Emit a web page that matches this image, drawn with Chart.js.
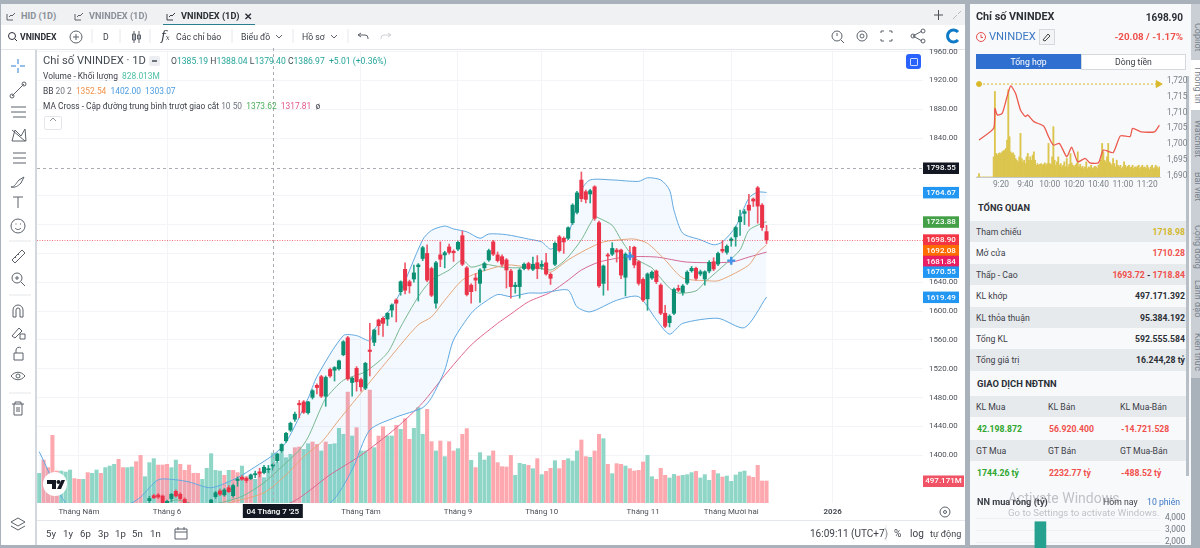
<!doctype html>
<html>
<head>
<meta charset="utf-8">
<title>VNINDEX</title>
<script src="https://cdn.jsdelivr.net/npm/chart.js@4/dist/chart.umd.js"></script>
<style>
	html, body { margin: 0; padding: 0; }
	body { position: relative; width: 1200px; height: 548px; overflow: hidden; background: #a9b1bb; font-family: Roboto, sans-serif; color: #3c4048; }
	.box { position: absolute; }
	.t { position: absolute; white-space: nowrap; line-height: 12px; font-size: 8.7px; }
	.r { text-align: right; }
	.b { font-weight: 700; }
	canvas { position: absolute; }
	.row { position: absolute; left: 970px; width: 216px; height: 21.4px; }
	.vt { position: absolute; left: 1191px; width: 12px; writing-mode: vertical-rl; font-size: 9px; color: #77808a; white-space: nowrap; line-height: 10px; }
</style>
</head>
<body>
	<!-- panels -->
	<div class="box" style="left:1px;top:4px;width:964px;height:541px;background:#fff"></div>
	<div class="box" style="left:1px;top:4px;width:964px;height:21px;background:#f0f1f3"></div>
	<div class="box" style="left:163px;top:24px;width:92px;height:1px;background:#2a7f8f"></div>
	<div class="box" style="left:1px;top:49px;width:964px;height:1px;background:#e3e6ea"></div>
	<div class="box" style="left:35px;top:50px;width:2px;height:495px;background:#d3d8df"></div>
	<div class="box" style="left:37px;top:520px;width:928px;height:1px;background:#e3e6ea"></div>
	<div class="box" style="left:970px;top:4px;width:221px;height:541px;background:#f8f9fb"></div>
	<div class="box" style="left:1186px;top:76px;width:3px;height:400px;background:#b9bfc6"></div>

	<canvas id="price-chart" width="928" height="472" style="left:37px;top:48px"></canvas>
	<canvas id="intraday-chart" width="214" height="122" style="left:976px;top:72px"></canvas>
	<div id="rows"></div>
	<canvas id="foreign-chart" width="210" height="60" style="left:976px;top:506px"></canvas>

	<!-- top tabs -->
	<div class="t b" style="left:21px;top:10px;color:#8a9099;font-size:9.2px">HID (1D)</div>
	<div class="t b" style="left:89px;top:10px;color:#8a9099;font-size:9.2px">VNINDEX (1D)</div>
	<div class="t b" style="left:181px;top:10px;color:#2b2f36;font-size:9.2px">VNINDEX (1D)</div>
	<div class="t b" style="left:244px;top:11px;font-size:10px;color:#2b2f36">✕</div>

	<!-- toolbar -->
	<div class="t b" style="left:20px;top:31px;color:#2b2f36">VNINDEX</div>
	<div class="t" style="left:103px;top:31px">D</div>
	<div class="t" style="left:176px;top:31px">Các chỉ báo</div>
	<div class="t" style="left:241px;top:31px">Biểu đồ</div>
	<div class="t" style="left:302px;top:31px">Hồ sơ</div>
	<div class="t" style="left:161px;top:30px;font-size:13px;font-style:italic;font-family:'DejaVu Serif',serif">f<span style="font-size:7px">x</span></div>

	<!-- chart legend -->
	<div class="t" style="left:43px;top:55px;font-size:11.2px;color:#444a52">Chỉ số VNINDEX · 1D</div>
	<div class="box" style="left:149px;top:56px;width:11px;height:10px;background:#eceef1;border-radius:2px"></div>
	<div class="box" style="left:152px;top:60px;width:5px;height:2px;background:#6d737b"></div>
	<div class="t" style="left:171px;top:55px;color:#26a69a;font-size:8.6px"><span style="color:#444a52">O</span>1385.19 <span style="color:#444a52">H</span>1388.04 <span style="color:#444a52">L</span>1379.40 <span style="color:#444a52">C</span>1386.97 &nbsp;+5.01 (+0.36%)</div>
	<div class="t" style="left:43px;top:70px;font-size:8.4px">Volume - Khối lượng &nbsp;<span style="color:#4dbfa4">828.013M</span></div>
	<div class="t" style="left:43px;top:85px;font-size:8.4px">BB <span style="color:#6f7680">20 2</span> &nbsp;<span style="color:#f2924a">1352.54</span> &nbsp;<span style="color:#4a9be0">1402.00</span> &nbsp;<span style="color:#4a9be0">1303.07</span></div>
	<div class="t" style="left:43px;top:100px;font-size:8.4px">MA Cross - Cập đường trung bình trượt giao cắt <span style="color:#6f7680">10 50</span> &nbsp;<span style="color:#4cae5b">1373.62</span> &nbsp;<span style="color:#e2558b">1317.81</span> &nbsp;ø</div>
	<div class="box" style="left:44px;top:116px;width:16px;height:12px;border:1px solid #e3e6ea;border-radius:2px"></div>
	<div class="box" style="left:906px;top:54px;width:15px;height:15px;background:#2962ff;border-radius:3px"></div>
	<div class="box" style="left:910px;top:58px;width:6px;height:6px;border:1px solid #cfdcff;border-radius:1px"></div>

	<!-- TradingView logo -->
	<div class="box" style="left:43px;top:472px;width:24px;height:24px;background:#fff;border-radius:50%"></div>
	<svg class="box" style="left:43px;top:472px" width="24" height="24" fill="#131722">
		<path d="M4 8h9v9h-4v-5h-5z"/><circle cx="15.500" cy="10" r="2"/><path d="M18.500 8h3.500l-4 9h-4z"/>
	</svg>

	<!-- bottom bar -->
	<div class="t" style="left:46px;top:528px;font-size:9.6px">5y</div>
	<div class="t" style="left:63px;top:528px;font-size:9.6px">1y</div>
	<div class="t" style="left:80px;top:528px;font-size:9.6px">6p</div>
	<div class="t" style="left:98px;top:528px;font-size:9.6px">3p</div>
	<div class="t" style="left:115px;top:528px;font-size:9.6px">1p</div>
	<div class="t" style="left:132px;top:528px;font-size:9.6px">5n</div>
	<div class="t" style="left:150px;top:528px;font-size:9.6px">1n</div>
	<div class="t" style="left:810px;top:528px;font-size:10px">16:09:11 (UTC+7)</div>
	<div class="t" style="left:894px;top:528px;font-size:10px">%</div>
	<div class="t" style="left:910px;top:528px;font-size:10px">log</div>
	<div class="t" style="left:930px;top:528px;font-size:9px">tự động</div>

	<!-- right panel head -->
	<div class="t b" style="left:976px;top:11px;font-size:10.8px;color:#2b2f36">Chỉ số VNINDEX</div>
	<div class="t b r" style="right:17px;top:12px;font-size:10px;color:#2b2f36">1698.90</div>
	<div class="t" style="left:989px;top:31px;font-size:11.2px;color:#3d78c4">VNINDEX</div>
	<div class="t b r" style="right:17px;top:31px;font-size:9.8px;color:#f0504c">-20.08 / -1.17%</div>
	<div class="box" style="left:1039px;top:29px;width:14px;height:14px;border:1px solid #d5d9de;background:#f3f4f6"></div>
	<div class="box" style="left:976px;top:54px;width:105px;height:15px;background:#2f6fd0"></div>
	<div class="box" style="left:1081px;top:54px;width:103px;height:14px;background:#fff;border:1px solid #d5d9de"></div>
	<div class="t" style="left:976px;top:56px;width:105px;text-align:center;color:#fff">Tổng hợp</div>
	<div class="t" style="left:1081px;top:56px;width:105px;text-align:center">Dòng tiền</div>

	<div class="t b" style="left:978px;top:202px;font-size:9.2px;color:#2b2f36">TỔNG QUAN</div>
	<div class="t b" style="left:977px;top:378px;font-size:9.4px;color:#2b2f36">GIAO DỊCH NĐTNN</div>
	<div class="t b" style="left:977px;top:496px;font-size:9.2px;color:#3c4048">NN mua ròng (tỷ)</div>
	<div class="t" style="left:1103px;top:496px">Hôm nay</div>
	<div class="t" style="left:1147px;top:496px;color:#3d78c4">10 phiên</div>
	<div class="t" style="left:1008px;top:492px;font-size:14px;color:rgba(120,125,132,.45)">Activate Windows</div>
	<div class="t" style="left:1008px;top:507px;font-size:9.6px;color:rgba(120,125,132,.45)">Go to Settings to activate Windows.</div>

	<!-- side tabs -->
	<div class="box" style="left:1191px;top:4px;width:9px;height:374px;background:#c9cfd5"></div>
	<div class="box" style="left:1191px;top:60px;width:9px;height:50px;background:#fff"></div>
	<div class="vt" style="top:23px">Copilot</div>
	<div class="vt" style="top:66px">Thông tin</div>
	<div class="vt" style="top:120px">Watchlist</div>
	<div class="vt" style="top:172px">Bài viết</div>
	<div class="vt" style="top:225px">Cộng đồng</div>
	<div class="vt" style="top:280px">Lãnh đạo</div>
	<div class="vt" style="top:333px">Kiến thức</div>

	<!-- icons -->
	<svg class="box" style="left:0;top:0;pointer-events:none" width="1200" height="548" fill="none" stroke="#5b626b" stroke-width="1">
		<path stroke="#2f7fd6" d="M11 66h5M20 66h5M18 59v5M18 68v5"/>
		<path d="M12 96L24 84M10 96a2 2 0 1 0 4 0a2 2 0 1 0-4 0M22 84a2 2 0 1 0 4 0a2 2 0 1 0-4 0"/>
		<path d="M11 107h15M11 112h15M13 117h13"/>
		<path d="M12 141l3-11 6 6 4-7 1 12zM12 130l13 11"/>
		<path d="M13 153h13M13 158h13M13 163h13"/>
		<path d="M11 187c4 0 5-4 8-7l5-3-3 6c-3 3-6 5-10 4z"/>
		<path d="M13 197h10M18 197v11"/>
		<circle cx="18" cy="226" r="7"/><path d="M15 228c2 2 4 2 6 0M15.500 224h1M20 224h1"/>
		<path d="M12 260l10-10 3 3-10 10zM15 257l1 1M18 254l1 1"/>
		<circle cx="17" cy="278" r="5"/><path d="M21 282l4 4M15 278h4M17 276v4"/>
		<path d="M13 317v-7a5 5 0 0 1 10 0v7h-3v-7a2 2 0 0 0-4 0v7z"/>
		<path d="M12 336l7-8 3 3-7 7zM20 334h5v5h-5z"/>
		<path d="M14 353h9v7h-9zM16 353v-3a3 3 0 0 1 5-2"/>
		<path d="M11 376c4-5 10-5 14 0c-4 5-10 5-14 0z"/><circle cx="18" cy="376" r="2"/>
		<path d="M12 404h12M15 404v-2h6v2M14 404v11h8v-11M17 407v5M19 407v5"/>
		<path d="M18 518l7 4-7 4-7-4zM11 526l7 4 7-4"/>
		<path stroke="#e3e6ea" d="M9 241h22M9 295h22M9 393h22"/>
		<path d="M7 20v-6M7 20h6M9 17l2-2 1 1 3-3"/>
		<path d="M75 20v-6M75 20h6M77 17l2-2 1 1 3-3"/>
		<path stroke="#3c4048" d="M167 20v-6M167 20h6M169 17l2-2 1 1 3-3"/>
		<circle cx="12" cy="36" r="3.500" stroke="#2b2f36"/><path stroke="#2b2f36" d="M15 39l2 2"/>
		<circle cx="76" cy="37" r="6"/><path d="M73 37h6M76 34v6"/>
		<path d="M134 31v12M139 31v12M132.500 34h3v6h-3zM137.500 35h3v4h-3z"/>
		<path d="M276 35l3 3 3-3M331 35l3 3 3-3"/>
		<path d="M358 35h7a3 3 0 0 1 3 3v1M358 35l3-2M358 35l3 2"/>
		<path stroke="#ccd0d5" d="M391 35h-7a3 3 0 0 0-3 3v1M391 35l-3-2M391 35l-3 2"/>
		<path stroke="#e6e8ec" d="M92 29v14M120 29v14M150 29v14M232 29v14M293 29v14M348 29v14M886 525v16"/>
		<circle cx="837" cy="36" r="5"/><path d="M841 40l3 3M837 33v3"/>
		<circle cx="862" cy="36" r="5"/><circle cx="862" cy="36" r="2"/>
		<path d="M881 33v-2h3M889 31h3v2M892 39v2h-3M884 41h-3v-2"/>
		<path d="M913 36l9-5M913 36l9 5"/><circle cx="913" cy="36" r="2"/><circle cx="923" cy="31" r="2"/><circle cx="923" cy="41" r="2"/>
		<path stroke="#0f7ac6" stroke-width="3" d="M958 32a6 6 0 1 0 0 8"/>
		<path stroke="#4a4f56" d="M934 15h9M938.500 10v10"/>
		<path stroke="#b7bcc3" d="M953 19l4-4M958 14l3-3"/>
		<circle cx="945" cy="512" r="5"/><circle cx="945" cy="512" r="1.500"/>
		<path d="M175 529h12v10h-12zM175 532h12M178 527v3M184 527v3"/>
		<circle cx="981" cy="37" r="4.500" stroke="#e8504c"/><path stroke="#e8504c" d="M981 34.500v3h2"/>
		<path stroke="#444" d="M1043 40l5-6 2 2-5 5z"/>
		<path stroke="#8d949c" d="M50 121l3-3 3 3"/>
	</svg>

	<script>
		const categories = Array.from({ length: 201 }, (_, i) => i);
		const monthIndex = [9, 29, 73, 95, 114, 137, 157, 180];
		const monthLabels = ['Tháng Năm', 'Tháng 6', 'Tháng Tám', 'Tháng 9', 'Tháng 10', 'Tháng 11', 'Tháng Mười hai', '2026'];
		const priceTicks = [1400, 1440, 1480, 1520, 1560, 1600, 1640, 1680, 1720, 1760, 1840, 1880, 1920, 1960];

		const opens = [1226,1230,1228,1222,1216,1220,1234,1248,1260,1254,
			1248,1260,1266,1272,1282,1276,1292,1300,1306,1310,
			1308,1316,1322,1318,1314,1337,1344,1345,1343.5,1332,
			1340,1350,1346,1339,1331,1328,1324,1326,1329,1328,
			1342.6,1350.5,1345,1355,1344,1365,1369.5,1368,1367.6,1373,
			1377,1376,1380,1385.19,1392.5,1406,1420,1435,1450,1472,
			1474,1459,1480.4,1497,1509,1482,1519,1518,1520,1539.5,
			1563,1501,1520.6,1505,1493,1546,1556.7,1587.7,1590,1589,
			1601.5,1615.4,1627,1658,1640.8,1644.5,1661.6,1673,1680,1659,
			1611,1678,1678,1689,1683,1686,1704.6,1660,1636,1646,
			1638.5,1660,1671,1696,1678,1675.5,1671,1655.6,1634,1634,
			1659,1666,1658,1667,1662,1667,1651,1665,1703,1701,
			1701,1722.6,1737,1781.8,1765.6,1762.5,1772.5,1722.6,1638.5,1678,
			1679,1684.7,1684.7,1647,1677,1688.5,1668.5,1644,1617,1646,
			1655.6,1636,1597,1584,1597,1631.6,1626,1639,1656,1659.4,
			1651.5,1644.5,1655.6,1668.5,1665.3,1685.7,1681.6,1697.6,1703,1724,
			1735.6,1747,1755.5,1771,1747,1710.28];
		const highs = [1232,1236,1230,1228,1224,1236,1250,1262,1266,1258,
			1262,1270,1276,1284,1288,1296,1304,1310,1316,1320,
			1320,1326,1328,1326,1330,1343,1346,1347,1345,1338,
			1347,1352,1348,1341,1334,1330,1330,1331,1333,1339,
			1350,1353,1354,1358,1360,1370,1372,1370,1374,1378,
			1382,1386,1386,1388.04,1403,1416,1432,1446,1460,1476,
			1476,1475,1491,1499,1511,1510,1521,1523,1532,1559,
			1565,1508,1523,1507,1529,1583,1575,1589,1592,1598,
			1610,1617,1642,1667,1643,1664,1666,1690,1692,1661,
			1669,1696,1683,1693,1685,1697,1711,1662,1638,1652,
			1659,1668,1686,1698,1682,1678,1673,1658,1640,1659,
			1667,1668,1675,1677,1670,1680,1653,1696,1705,1703,
			1717,1749,1766,1793,1768,1769,1774,1725,1664,1680,
			1695,1687,1686,1681,1690,1690,1670,1646,1653,1656,
			1657,1638,1608,1595,1632,1636,1637,1656,1662,1661,
			1657,1656,1670,1674,1682,1698,1692,1702,1718,1740,
			1741,1762,1757,1773,1749,1718.84];
		const lows = [1222,1224,1218,1212,1210,1218,1232,1246,1250,1242,
			1246,1256,1262,1270,1270,1274,1290,1296,1300,1302,
			1306,1312,1312,1308,1312,1334,1340,1340,1330,1330,
			1336,1342,1338,1330,1325,1322,1322,1322,1322,1326,
			1340,1344,1343,1348,1342,1357,1365,1362,1366,1369,
			1370,1374,1376,1379.40,1390,1404,1418,1433,1447,1452,
			1458,1457,1478,1485,1480,1468,1508,1503,1518,1538,
			1504,1482,1489,1489,1491,1510,1552,1567,1565,1580,
			1592,1585,1622,1624,1625,1640,1614,1670,1641,1620,
			1604,1661.6,1660,1679,1669,1684,1663,1621,1611,1628,
			1612,1656,1669,1677,1668,1662,1632,1618,1625,1618,
			1657,1657,1656,1645,1658,1650,1637,1663,1682,1680,
			1699,1720,1735,1752,1750,1750,1726,1633,1622,1629,
			1677,1668,1645,1621,1672,1660,1636,1613,1601,1644,
			1638,1595,1577,1578,1595,1627,1622,1637,1654,1643,
			1649,1636,1653,1656,1663,1681,1679,1690,1690,1705,
			1720,1718,1745,1722,1712,1693.72];
		const closes = [1230,1228,1222,1216,1220,1234,1248,1260,1254,1248,
			1260,1266,1272,1282,1276,1292,1300,1306,1310,1308,
			1316,1322,1318,1314,1326,1340,1341,1342,1331,1336,
			1346,1343.5,1340,1332,1328,1324,1328,1329,1325,1338,
			1348,1346,1352,1349.5,1358,1367,1366.7,1365,1372.8,1374.5,
			1375,1383.4,1381.5,1386.97,1401.8,1415,1430.5,1444.4,1457,1470,
			1459.6,1474,1489.6,1494,1482,1508,1510,1521.7,1531,1557.5,
			1506,1507,1502,1495,1527.6,1544,1573.8,1579.8,1583,1597,
			1608.5,1611,1640.8,1629,1635,1653,1664,1688,1643,1622,
			1667,1672,1681,1681.5,1681,1695.4,1665,1623,1627,1643,
			1657,1666,1684,1679,1670,1665,1657,1634,1636,1657,
			1665,1659,1665,1659,1665,1651.5,1645.5,1694,1684,1696,
			1715.7,1747,1764,1756,1755,1767,1728.7,1635,1662.6,1676.4,
			1687,1682,1650,1679,1675,1664,1638.5,1615.4,1651.5,1654,
			1640.8,1597,1579,1593,1630,1629,1634.8,1654,1659.4,1645.5,
			1654.6,1654.6,1667.7,1658.4,1680,1683.4,1690,1700,1716,1731,
			1738,1740,1752.7,1745.7,1716,1698.90];

		// million shares
		const volumes = [588,745,655,1037,615,615,603,627,525,517,
			517,596,588,627,588,655,674,694,753,655,
			655,663,726,800,548,714,761,686,686,694,
			655,745,694,623,686,588,588,517,647,820,
			623,615,564,623,623,596,674,548,548,517,
			596,536,635,828.013,714,832,773,812,891,899,
			871,938,958,930,852,958,930,938,1120,1049,
			1549,1029,1127,852,852,1573,891,1029,1139,1029,
			1029,1155,1108,1234,990,1120,1364,1049,1344,962,
			852,970,785,962,852,879,1049,1116,741,655,
			832,745,793,852,714,666,663,800,564,706,
			694,682,643,761,572,611,647,737,643,741,
			761,733,852,982,785,777,852,1049,997,694,
			584,702,694,674,643,615,623,722,800,548,
			517,647,564,533,576,556,564,572,596,611,
			533,572,505,623,584,544,556,493,568,603,
			615,556,540,682,497,497.171];
		const volumeDirs = ('grrrrgggrr' + 'grggrgggrr' + 'ggrrgggrrr' + 'ggrrrrrggg' + 'ggrgrrgrrg' + 'rgggggggrr' + 'ggrrgrgggg' + 'rgrggrgrrg'
			+ 'grgrrgggrr' + 'grgrrgrrgr' + 'gggrrrrrgg' + 'grgrgrrgrr' + 'gggrrgrrgr' + 'grrgrrrrgg' + 'rrrggrgggr' + 'gggrgrgggg' + 'grrrrr').split('');

		// [bar index, price] at the bends
		const bbUpper = [[0,1405],[6,1334],[13,1310],[21,1334],[23,1342],[27,1366],[31,1366],[34,1363],[39,1355],[45,1369],[49,1384],[53,1400],[56,1418],[61,1479],[63,1509],[69,1566],[72,1566],[75,1559],[76,1574],[81,1615],[87,1699],[89,1712],[92,1718],[94,1714],[97,1710],[100,1701],[102,1707],[106,1706],[111,1700],[114,1696],[116,1686],[118,1694],[120,1706],[123,1768],[125,1782],[130,1782],[136,1780],[138,1785],[141,1782],[143,1768],[144,1740],[146,1708],[150,1699],[153,1692],[155,1696],[158,1717],[161,1757],[163,1765],[165,1764.67]];
		const bbLower = [[0,1180],[20,1230],[40,1300],[55,1315],[66,1334],[71,1380],[75,1435],[81,1453],[87,1466],[89,1480],[92,1518],[94,1560],[98,1597],[100,1608],[104,1623],[107,1620],[111,1625],[114,1625],[116,1627],[120,1629],[122,1606],[125,1599],[131,1615],[136,1620],[140,1588],[143,1568],[146,1583],[154,1590],[160,1577],[165,1619.49]];
		const bbBasis = [[0,1240],[20,1290],[35,1320],[43,1334],[51,1348],[56,1373],[60,1398],[64,1418],[68,1449],[72,1479],[81,1546],[86,1581],[89,1592],[92,1615],[96,1643],[100,1654],[106,1664],[111,1661],[114,1660],[116,1654],[120,1671],[124,1685],[128,1696],[132,1699],[135,1700],[138,1694],[142,1671],[146,1646],[152,1642],[154,1642],[157,1650],[161,1664],[163,1681],[165,1692.08]];
		const maFast = [[0,1260],[20,1320],[29,1334],[31,1338],[34,1334],[36,1328],[41,1334],[46,1343],[51,1362],[55,1384],[59,1407],[61,1425],[64,1467],[65,1479],[69,1504],[74,1516],[79,1542],[82,1578],[86,1620],[89,1643],[93,1657],[96,1671],[98,1661],[101,1665],[105,1661],[108,1660],[112,1661],[116,1657],[118,1664],[120,1675],[123,1699],[126,1731],[127,1729],[130,1719],[132,1699],[135,1674],[139,1660],[140,1653],[143,1632],[145,1625],[149,1628],[151,1640],[156,1667],[159,1685],[161,1712],[164,1722],[165,1723.88]];
		const maSlow = [[0,1250],[40,1310],[57,1334],[66,1373],[73,1400],[81,1438],[87,1473],[92,1511],[98,1553],[104,1583],[107,1596],[111,1613],[116,1626],[120,1643],[123,1657],[127,1668],[133,1675],[140,1675],[147,1668],[157,1668],[161,1675],[165,1681.84]];
		const crossIndex = [134, 157];
		const crossPrices = [1676, 1670];

		const crosshairIndex = 53;
		const crosshairLabel = "04 Tháng 7 '25";
		const crosshairPrice = 1798.55;
		const lastPrice = 1698.90;
		const lastVolume = 497.171;
		const tagValues = [1798.55, 1764.67, 1723.88, 1698.90, 1692.08, 1681.84, 1670.55, 1619.49];
		const tagColors = ['#131722', '#2196f3', '#43a047', '#f23645', '#ff6d00', '#e91e63', '#2196f3', '#2196f3'];

		// intraday panel
		const minuteLabels = Array.from({ length: 151 }, (_, i) => i);
		const minuteTickIndex = [20, 40, 60, 80, 100, 120, 140];
		const minuteTickLabels = ['9:20', '9:40', '10:00', '10:20', '10:40', '11:00', '11:20'];
		const intradayTicks = [1690, 1695, 1700, 1705, 1710, 1715, 1720];
		const intradayPrice = [[2,1701.3],[14,1705],[15,1711.3],[17,1709.2],[21,1709.7],[25,1715],[28,1718.4],[32,1716],[36,1710.8],[40,1708.7],[42,1709.2],[47,1707.1],[55,1705.7],[59,1702.4],[63,1699.7],[68,1700.2],[74,1696],[78,1699],[83,1694.4],[89,1695.5],[93,1694.1],[100,1694.1],[104,1698.1],[112,1697.3],[118,1702.6],[126,1702.4],[128,1705],[135,1703.9],[146,1703.9],[150,1706]];
		const intradayVolume = [0,0,10,0,0,0,0,0,0,0,0,0,0,0,60,255,70,65,70,72,70,75,78,80,85,110,260,120,75,70,72,65,55,50,45,60,130,55,45,50,40,60,70,50,60,50,65,75,50,35,40,35,38,40,35,38,42,35,40,100,40,38,60,150,50,35,45,60,35,40,30,35,45,30,55,30,38,70,42,35,30,35,40,75,30,38,28,32,25,30,45,25,30,28,35,25,28,32,30,25,35,40,50,100,75,50,45,60,100,45,40,35,55,40,30,50,35,30,35,25,30,45,35,28,32,35,28,30,35,25,30,28,32,35,25,30,35,28,30,25,35,28,22,30,35,25,28,35,30,25,30];
		const referencePrice = 1718.98;

		// foreign net buying, sessions below 2,000 are cut off by the window
		const foreignSessions = ['1', '2', '3', '4', '5', '6', '7', '8', '9', '10'];
		const foreignNet = [null, null, null, 3690, null, null, null, null, null, null];
		const foreignTicks = [0, 1000, 2000, 3000, 4000];

		// side panel rows
		const overviewLabels = ['Tham chiếu', 'Mở cửa', 'Thấp - Cao', 'KL khớp', 'KL thỏa thuận', 'Tổng KL', 'Tổng giá trị'];
		const overviewValues = [
			'<span style="color:#d3b72b">1718.98</span>',
			'<span style="color:#f0504c">1710.28</span>',
			'<span style="color:#f0504c">1693.72</span> - <span style="color:#f0504c">1718.84</span>',
			'497.171.392', '95.384.192', '592.555.584', '16.244,28 tỷ'
		];
		const foreignHead1 = ['KL Mua', 'KL Bán', 'KL Mua-Bán'];
		const foreignVal1 = ['42.198.872', '56.920.400', '-14.721.528'];
		const foreignHead2 = ['GT Mua', 'GT Bán', 'GT Mua-Bán'];
		const foreignVal2 = ['1744.26 tỷ', '2232.77 tỷ', '-488.52 tỷ'];

		function points(pairs) {
			return pairs.map(([x, y]) => ({ x, y }));
		}

		function lineSet(pairs, color, extra) {
			return Object.assign({
				type: 'line', data: points(pairs), yAxisID: 'y', borderColor: color, borderWidth: 1,
				pointRadius: 0, tension: 0.25, order: 3
			}, extra);
		}

		// keeps the plot at the exact size, edge tick labels would shrink it otherwise
		function noPadding(s) {
			s.paddingTop = s.paddingBottom = s.paddingLeft = s.paddingRight = 0;
		}

		const referenceLines = {
			id: 'referenceLines',
			afterDatasetsDraw(chart) {
				const { ctx, chartArea: a, scales: { x, y } } = chart;
				ctx.save();
				ctx.lineWidth = 1;
				ctx.strokeStyle = '#a9adb3';
				ctx.setLineDash([3, 3]);
				const cx = Math.round(x.getPixelForValue(crosshairIndex)) + 0.5;
				ctx.beginPath();
				ctx.moveTo(cx, a.top);
				ctx.lineTo(cx, a.bottom);
				const cy = Math.round(y.getPixelForValue(crosshairPrice)) + 0.5;
				ctx.moveTo(a.left, cy);
				ctx.lineTo(a.right, cy);
				ctx.stroke();
				ctx.strokeStyle = 'rgba(242,54,69,.7)';
				ctx.setLineDash([1, 1.5]);
				const ly = Math.round(y.getPixelForValue(lastPrice)) + 0.5;
				ctx.beginPath();
				ctx.moveTo(a.left, ly);
				ctx.lineTo(a.right, ly);
				ctx.stroke();
				ctx.restore();
			},
			afterDraw(chart) {
				const { ctx, chartArea: a, scales: { x, y, vol } } = chart;
				ctx.save();
				ctx.font = '500 8px Roboto';
				ctx.textAlign = 'center';
				ctx.textBaseline = 'middle';
				let prev = -100;
				tagValues.forEach((v, i) => {
					let py = y.getPixelForValue(v);
					if (py < prev + 10.7) py = prev + 10.7;
					prev = py;
					ctx.fillStyle = tagColors[i];
					ctx.fillRect(a.right, py - 5.5, 36, 11.5);
					ctx.fillStyle = '#fff';
					ctx.fillText(v.toFixed(2), a.right + 18, py + 0.5);
				});
				const vy = vol.getPixelForValue(lastVolume);
				ctx.fillStyle = '#ef5365';
				ctx.fillRect(a.right, vy - 5.5, 41, 11.5);
				ctx.fillStyle = '#fff';
				ctx.fillText(lastVolume.toFixed(3) + 'M', a.right + 20.5, vy + 0.5);
				// crosshair date box
				const cx = x.getPixelForValue(crosshairIndex);
				ctx.fillStyle = '#131722';
				ctx.fillRect(cx - 30, a.bottom + 1, 60, 14);
				ctx.fillStyle = '#fff';
				ctx.fillText(crosshairLabel, cx, a.bottom + 8.5);
				ctx.restore();
			}
		};

		new Chart(document.getElementById('price-chart'), {
			type: 'bar',
			data: {
				labels: categories,
				datasets: [
					lineSet(bbUpper, '#62a9e0', { fill: { target: 1 }, backgroundColor: 'rgba(33,150,243,.055)' }),
					lineSet(bbLower, '#62a9e0'),
					lineSet(bbBasis, '#f0a775'),
					lineSet(maFast, '#7db98a'),
					lineSet(maSlow, '#e0668f'),
					{
						type: 'line', data: crossIndex.map((x, i) => ({ x, y: crossPrices[i] })), yAxisID: 'y',
						showLine: false, pointStyle: 'cross', pointRadius: 4, pointBorderWidth: 2.4, pointBorderColor: '#3f95e8', order: 0
					},
					{
						label: 'wick', data: categories.slice(0, highs.length).map(i => [lows[i], highs[i]]), yAxisID: 'y', grouped: false,
						barThickness: 1, order: 2,
						backgroundColor: closes.map((c, i) => c >= opens[i] ? '#2ba58d' : '#f0596a')
					},
					{
						label: 'body', data: opens.map((o, i) => [Math.min(o, closes[i]), Math.max(o, closes[i])]), yAxisID: 'y', grouped: false,
						barThickness: 3.4, order: 1,
						backgroundColor: closes.map((c, i) => c >= opens[i] ? '#0d8f74' : '#ea3349')
					},
					{
						label: 'Volume', data: volumes, yAxisID: 'vol', grouped: false, barThickness: 3.4, order: 5,
						backgroundColor: volumeDirs.map(d => d === 'g' ? '#8fd6c7' : '#fca8ae')
					}
				]
			},
			options: {
				responsive: false,
				animation: false,
				events: [],
				layout: { padding: 0, autoPadding: false },
				plugins: { legend: { display: false }, tooltip: { enabled: false } },
				scales: {
					x: {
						offset: true,
						grid: { offset: false, color: '#f2f4f8', drawTicks: false },
						border: { display: false },
						afterBuildTicks(s) { s.ticks = monthIndex.map(value => ({ value })); },
						afterFit(s) { s.height = 17; noPadding(s); },
						ticks: {
							autoSkip: false, maxRotation: 0, padding: 4, color: '#4a4f57',
							font: ctx => ({ size: 7.9, family: 'Roboto', weight: ctx.index === 7 ? '700' : '400' }),
							callback: (v, i) => monthLabels[i]
						}
					},
					y: {
						position: 'right',
						min: 1333.8,
						max: 1965,
						grid: { color: '#f2f4f8', drawTicks: false },
						border: { display: false },
						afterBuildTicks(s) { s.ticks = priceTicks.map(value => ({ value })); },
						afterFit(s) { s.width = 42; noPadding(s); },
						ticks: { autoSkip: false, padding: 6, color: '#4a4f57', font: { size: 7.9, family: 'Roboto' }, callback: v => v.toFixed(2) }
					},
					vol: { display: false, min: 237, max: 5615 }
				}
			},
			plugins: [referenceLines]
		});

		new Chart(document.getElementById('intraday-chart'), {
			type: 'bar',
			data: {
				labels: minuteLabels,
				datasets: [
					{
						type: 'line', data: [{ x: 2, y: referencePrice }, { x: 149, y: referencePrice }], yAxisID: 'y',
						borderColor: '#d9b92a', borderWidth: 1, borderDash: [2, 2], order: 0,
						pointStyle: ['circle', 'triangle'], pointRotation: [0, 90], pointRadius: [2.5, 4],
						pointBackgroundColor: '#d9b92a', pointBorderColor: '#d9b92a'
					},
					{ type: 'line', data: points(intradayPrice), yAxisID: 'y', borderColor: '#ec5a4e', borderWidth: 1.3, pointRadius: 0, tension: 0.2, order: 1 },
					{ data: intradayVolume, yAxisID: 'vol', backgroundColor: '#dcc54e', barPercentage: 1, categoryPercentage: 1, order: 2 }
				]
			},
			options: {
				responsive: false,
				animation: false,
				events: [],
				layout: { padding: { top: 6 }, autoPadding: false },
				plugins: { legend: { display: false }, tooltip: { enabled: false } },
				scales: {
					x: {
						offset: true,
						grid: { display: false, drawTicks: false },
						border: { color: '#c5c9ce' },
						afterBuildTicks(s) { s.ticks = minuteTickIndex.map(value => ({ value })); },
						afterFit(s) { s.height = 17; noPadding(s); },
						ticks: { autoSkip: false, maxRotation: 0, padding: 3, color: '#7b828a', font: { size: 8.4, family: 'Roboto' }, callback: (v, i) => minuteTickLabels[i] }
					},
					y: {
						position: 'right',
						min: 1689.6,
						max: 1720.9,
						grid: { display: false, drawTicks: false },
						border: { display: false },
						afterBuildTicks(s) { s.ticks = intradayTicks.map(value => ({ value })); },
						afterFit(s) { s.width = 30; noPadding(s); },
						ticks: { autoSkip: false, padding: 7, color: '#7b828a', font: { size: 8.4, family: 'Roboto' }, callback: v => v.toLocaleString('en-US') }
					},
					vol: { display: false, min: 0, max: 295 }
				}
			}
		});

		new Chart(document.getElementById('foreign-chart'), {
			type: 'bar',
			data: { labels: foreignSessions, datasets: [{ data: foreignNet, backgroundColor: '#26a08f', barThickness: 11 }] },
			options: {
				responsive: false,
				animation: false,
				events: [],
				layout: { padding: { top: 6 }, autoPadding: false },
				plugins: { legend: { display: false }, tooltip: { enabled: false } },
				scales: {
					x: { display: false },
					y: {
						position: 'right',
						min: 0,
						max: 4500,
						grid: { color: '#eef0f3', drawTicks: false },
						border: { display: false },
						afterBuildTicks(s) { s.ticks = foreignTicks.map(value => ({ value })); },
						afterFit(s) { s.width = 26; noPadding(s); },
						ticks: { autoSkip: false, padding: 5, color: '#6f7680', font: { size: 8.4, family: 'Roboto' }, callback: v => v.toLocaleString('en-US') }
					}
				}
			}
		});

		// rows are plain text on top of the panel
		let rowsHtml = '';
		overviewLabels.forEach((label, i) => {
			const top = 221 + i * 21.4;
			rowsHtml += `<div class="row" style="top:${top}px;background:${i % 2 ? 'transparent' : '#e7eaed'}"></div>`
				+ `<div class="t" style="left:976px;top:${top + 5}px">${label}</div>`
				+ `<div class="t b r" style="right:15px;top:${top + 5}px;color:#2b2f36">${overviewValues[i]}</div>`;
		});
		[[396, foreignHead1, foreignVal1], [440, foreignHead2, foreignVal2]].forEach(([top, heads, vals]) => {
			rowsHtml += `<div class="row" style="top:${top}px;background:#e7eaed"></div>`;
			heads.forEach((h, i) => {
				const left = 976 + i * 72;
				rowsHtml += `<div class="t" style="left:${left}px;top:${top + 5}px">${h}</div>`
					+ `<div class="t b" style="left:${left + 1}px;top:${top + 27}px;color:${i ? '#f0504c' : '#2ea62e'}">${vals[i]}</div>`;
			});
		});
		document.getElementById('rows').innerHTML = rowsHtml;
	</script>
</body>
</html>
